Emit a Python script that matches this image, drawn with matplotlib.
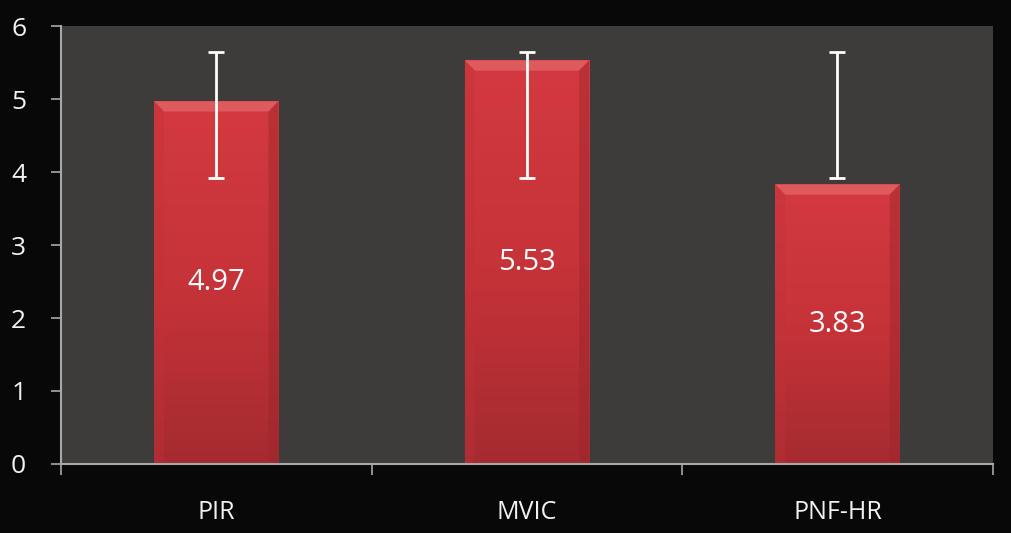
import matplotlib
matplotlib.use('Agg')
import matplotlib.pyplot as plt
import numpy as np
from matplotlib.colors import LinearSegmentedColormap

plt.rcParams['font.family'] = ['Open Sans', 'DejaVu Sans']

# dados
grupos = ['PIR', 'MVIC', 'PNF-HR']
medias = [4.97, 5.53, 3.83]
erro_inf = [3.92, 3.92, 3.92]   # extremo inferior da barra de erro
erro_sup = [5.65, 5.65, 5.65]   # extremo superior da barra de erro

fig = plt.figure(figsize=(10.11, 5.33), dpi=100, facecolor='#080808')
ax = fig.add_axes([0.0603, 0.1295, 0.9217, 0.8215])
ax.set_facecolor('#3e3b3b')

x = np.arange(len(grupos))
largura = 0.4
bars = ax.bar(x, medias, width=largura, color='#cf363c', zorder=2)

# gradiente vertical + chanfro nas barras
cmap = LinearSegmentedColormap.from_list('verm', ['#a52b30', '#c63338', '#d33a3f'])
grad = np.linspace(0, 1, 256).reshape(-1, 1)
for b in bars:
    x0, w, h = b.get_x(), b.get_width(), b.get_height()
    im = ax.imshow(grad, extent=[x0, x0 + w, 0, h], origin='lower', cmap=cmap,
                   aspect='auto', zorder=2.1)
    im.set_clip_path(b)
    dx, dy = 0.032, 0.14
    topo = plt.Polygon([[x0, h], [x0 + w, h], [x0 + w - dx, h - dy], [x0 + dx, h - dy]],
                       color='#df5a5d', zorder=2.2, lw=0)
    esq = plt.Polygon([[x0, h], [x0 + dx, h - dy], [x0 + dx, dy * 0.3], [x0, 0]],
                      color='#c23237', zorder=2.2, lw=0, alpha=0.35)
    dir_ = plt.Polygon([[x0 + w, h], [x0 + w - dx, h - dy], [x0 + w - dx, dy * 0.3], [x0 + w, 0]],
                       color='#9c262b', zorder=2.2, lw=0, alpha=0.45)
    for p in (topo, esq, dir_):
        ax.add_patch(p)

# barras de erro (intervalo nem sempre contem a media)
lo = np.array(erro_inf)
hi = np.array(erro_sup)
ax.errorbar(x, (lo + hi) / 2, yerr=(hi - lo) / 2, fmt='none', ecolor='white',
            elinewidth=2, capsize=5.5, capthick=2, zorder=3)

for xi, v in zip(x, medias):
    ax.text(xi, v / 2, f'{v:.2f}', ha='center', va='center', color='white',
            fontsize=21, zorder=4)

ax.set_xlim(-0.5, len(grupos) - 0.5)
ax.set_ylim(0, 6)
ax.set_yticks(range(0, 7))
ax.set_xticks(x)
ax.set_xticklabels(grupos)
ax.set_xticks(np.arange(-0.5, len(grupos)), minor=True)

ax.tick_params(axis='y', colors='#a8a8a8', labelcolor='#f2f2f2', labelsize=19,
               length=7, width=1.2, direction='out', pad=18)
ax.tick_params(axis='x', which='major', length=0, labelcolor='#f2f2f2', labelsize=18, pad=26)
ax.tick_params(axis='x', which='minor', colors='#a8a8a8', length=8, width=1.2, direction='out')

for s in ['top', 'right']:
    ax.spines[s].set_visible(False)
for s in ['left', 'bottom']:
    ax.spines[s].set_color('#a8a8a8')
    ax.spines[s].set_linewidth(1.5)

plt.savefig('out.png', dpi=100, facecolor=fig.get_facecolor())
plt.close()
